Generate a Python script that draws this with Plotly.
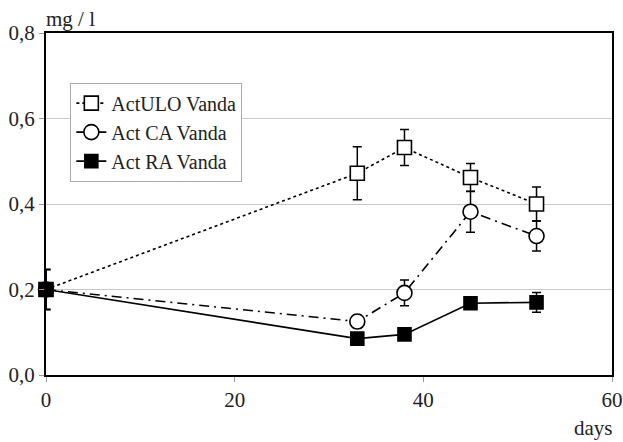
import plotly.graph_objects as go

# Sampling days
days = [0, 33, 38, 45, 52]

# Mean concentrations (mg / l) and their standard deviations
ulo_mean = [0.20, 0.472, 0.532, 0.462, 0.400]
ulo_err = [0.047, 0.062, 0.042, 0.033, 0.040]

ca_mean = [0.20, 0.125, 0.192, 0.382, 0.325]
ca_err = [0.047, 0.015, 0.030, 0.048, 0.035]

ra_mean = [0.20, 0.085, 0.095, 0.168, 0.170]
ra_err = [0.047, 0.012, 0.0, 0.0, 0.023]

series = [
    ("ActULO Vanda", ulo_mean, ulo_err, "dot", "square", "white", 14),
    ("Act CA Vanda", ca_mean, ca_err, "10px,5px,2px,5px", "circle", "white", 15),
    ("Act RA Vanda", ra_mean, ra_err, "solid", "square", "black", 13),
]

font_family = "Liberation Serif, Times New Roman, serif"
text_color = "#222"

fig = go.Figure()
for name, mean, err, dash, symbol, fill, size in series:
    fig.add_trace(go.Scatter(
        x=days, y=mean, name=name, mode="lines+markers",
        cliponaxis=False,
        line=dict(color="black", width=1.6, dash=dash),
        marker=dict(symbol=symbol, size=size, color=fill,
                    line=dict(color="black", width=1.6)),
        error_y=dict(type="data", array=err, visible=True,
                     color="black", thickness=1.5, width=4.5),
    ))

fig.update_layout(
    width=623, height=442,
    margin=dict(l=46, r=11, t=33, b=67, autoexpand=False),
    paper_bgcolor="white", plot_bgcolor="white",
    separators=", ",
    font=dict(family=font_family, size=21, color=text_color),
    showlegend=True,
    legend=dict(
        x=0.043, y=0.855, xanchor="left", yanchor="top",
        bgcolor="white", bordercolor="#aaa", borderwidth=1,
        font=dict(size=20, family=font_family, color=text_color),
        tracegroupgap=0,
    ),
    xaxis=dict(
        range=[0, 60], tickvals=[0, 20, 40, 60],
        showgrid=False, zeroline=False, automargin=False,
        showline=True, linecolor="black", linewidth=2, mirror=True,
        ticks="outside", ticklen=5, tickcolor="#999",
    ),
    yaxis=dict(
        range=[0, 0.8], tickvals=[0, 0.2, 0.4, 0.6, 0.8], tickformat=".1f",
        showgrid=True, gridcolor="#c8c8c8", gridwidth=1, zeroline=False,
        automargin=False,
        showline=True, linecolor="black", linewidth=2, mirror=True,
        ticks="outside", ticklen=5, tickcolor="#999",
    ),
    annotations=[
        dict(text="mg / l", xref="paper", yref="paper", x=-0.003, y=1.0,
             xanchor="left", yanchor="bottom", showarrow=False,
             font=dict(size=21, family=font_family, color=text_color)),
        dict(text="days", xref="paper", yref="paper", x=1.006, y=-0.115,
             xanchor="right", yanchor="top", showarrow=False,
             font=dict(size=21, family=font_family, color=text_color)),
    ],
)

fig.write_html("out.html")
